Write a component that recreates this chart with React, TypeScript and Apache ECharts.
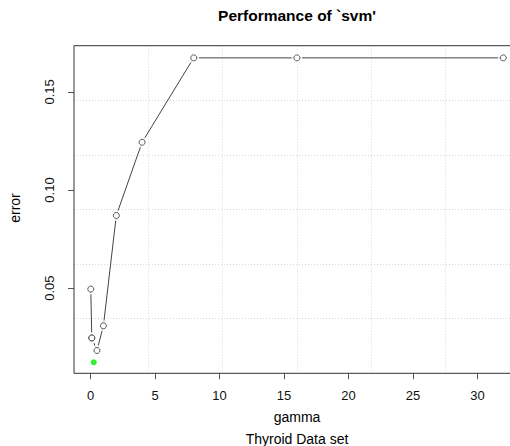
import React, { useEffect, useRef } from "react";
import * as echarts from "echarts";

const gammaValues = [0.02, 0.1, 0.1, 0.5, 1, 2, 4, 8, 16, 32];
const errorValues = [0.0495, 0.0246, 0.0246, 0.0182, 0.0308, 0.087, 0.1243, 0.1673, 0.1673, 0.1673];
const bestGamma = [0.25];
const bestError = [0.0122];
const xTicks = [0, 5, 10, 15, 20, 25, 30];
const yTicks = [0.05, 0.1, 0.15];
const titleText = "Performance of `svm'";
const xLabel = "gamma";
const subLabel = "Thyroid Data set";
const yLabel = "error";

const FONT = '"Liberation Sans", Arial, sans-serif';

export default function App() {
  const ref = useRef<HTMLDivElement>(null);
  useEffect(() => {
    if (!ref.current) return;
    const chart = echarts.init(ref.current, undefined, { renderer: "svg" });
    const gridLine = { show: true, lineStyle: { color: "#d8d8d8", type: [1, 2], width: 1 }, showMinLine: false, showMaxLine: false };
    const points = gammaValues.map((g, i) => [g, errorValues[i]]);
    chart.setOption({
      animation: false,
      backgroundColor: "#fff",
      textStyle: { fontFamily: FONT },
      grid: { left: 74, top: 45.7, right: 0.2, bottom: 72.7, show: true, borderColor: "#333", borderWidth: 1, backgroundColor: "transparent", z: 10 },
      xAxis: [
        {
          type: "value", min: -1.28, max: 33.28,
          axisLine: { show: false, onZero: false },
          axisTick: { show: true, customValues: xTicks, length: 6, lineStyle: { color: "#555" } },
          axisLabel: { show: true, customValues: xTicks, margin: 16, fontSize: 13, color: "#111", fontFamily: FONT },
          splitLine: { show: false },
        },
        {
          type: "value", min: 0, max: 6, interval: 1, position: "top",
          axisLine: { show: false, onZero: false }, axisTick: { show: false }, axisLabel: { show: false },
          splitLine: gridLine,
        },
      ],
      yAxis: [
        {
          type: "value", min: 0.0066, max: 0.1735,
          axisLine: { show: false, onZero: false },
          axisTick: { show: true, customValues: yTicks, length: 6, lineStyle: { color: "#555" } },
          axisLabel: { show: true, customValues: yTicks, rotate: 90, margin: 18, fontSize: 13, color: "#111", fontFamily: FONT, formatter: (v: number) => v.toFixed(2) },
          splitLine: { show: false },
        },
        {
          type: "value", min: 0, max: 6, interval: 1, position: "right",
          axisLine: { show: false, onZero: false }, axisTick: { show: false }, axisLabel: { show: false },
          splitLine: gridLine,
        },
      ],
      series: [
        {
          type: "line",
          xAxisIndex: 0, yAxisIndex: 0,
          data: points,
          showSymbol: false,
          symbol: "none",
          lineStyle: { color: "#444", width: 1 },
          z: 4,
        },
        {
          type: "scatter",
          xAxisIndex: 0, yAxisIndex: 0,
          data: points,
          symbol: "circle", symbolSize: 11,
          itemStyle: { color: "#fff" },
          z: 5,
        },
        {
          type: "scatter",
          xAxisIndex: 0, yAxisIndex: 0,
          data: points,
          symbol: "circle", symbolSize: 6,
          itemStyle: { color: "#fff", borderColor: "#333", borderWidth: 1 },
          z: 6,
        },
        {
          type: "scatter",
          xAxisIndex: 0, yAxisIndex: 0,
          data: bestGamma.map((g, i) => [g, bestError[i]]),
          symbol: "circle", symbolSize: 6,
          itemStyle: { color: "#00ee00" },
          z: 7,
        },
      ],
      graphic: [
        { type: "text", x: 297, y: 15, style: { text: titleText, font: `bold 15.5px ${FONT}`, fill: "#000", align: "center", verticalAlign: "middle", textAlign: "center", textVerticalAlign: "middle" } },
        { type: "text", x: 297, y: 417, style: { text: xLabel, font: `14px ${FONT}`, fill: "#000", align: "center", verticalAlign: "middle", textAlign: "center", textVerticalAlign: "middle" } },
        { type: "text", x: 297, y: 438.5, style: { text: subLabel, font: `14px ${FONT}`, fill: "#000", align: "center", verticalAlign: "middle", textAlign: "center", textVerticalAlign: "middle" } },
        { type: "text", x: 15, y: 208, rotation: Math.PI / 2, style: { text: yLabel, font: `14px ${FONT}`, fill: "#000", align: "center", verticalAlign: "middle", textAlign: "center", textVerticalAlign: "middle" } },
      ],
    });
    return () => chart.dispose();
  }, []);
  return (
    <div style={{ position: "absolute", left: 0, top: 0, width: 510, height: 446, overflow: "hidden" }}>
      <div ref={ref} style={{ width: 520, height: 446 }} />
    </div>
  );
}
